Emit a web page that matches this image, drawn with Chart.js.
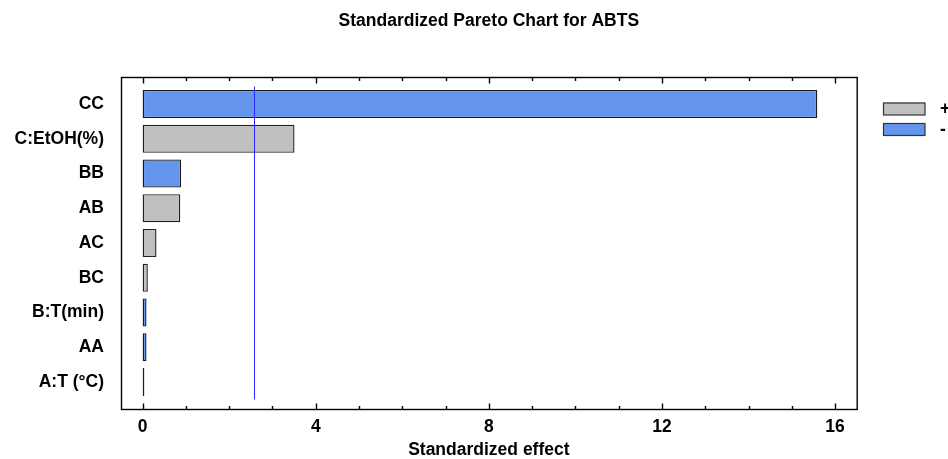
<!DOCTYPE html>
<html>
<head>
<meta charset="utf-8">
<script src="https://cdn.jsdelivr.net/npm/chart.js@4"></script>
<style>
  html, body { margin: 0; padding: 0; background: #fff; }
  #wrap { width: 948px; height: 459px; position: relative; }
</style>
</head>
<body>
<div id="wrap"><canvas id="c" width="948" height="459"></canvas></div>
<script>
// ---- Data ----
const chartTitle = "Standardized Pareto Chart for ABTS";
const axisTitle = "Standardized effect";
const categories = ["CC", "C:EtOH(%)", "BB", "AB", "AC", "BC", "B:T(min)", "AA", "A:T (°C)"];
const effects    = [15.59, 3.51, 0.89, 0.87, 0.32, 0.12, 0.09, 0.09, 0.04];
const signs      = ["-", "+", "-", "+", "+", "+", "-", "-", "+"];
const legendLabels = ["+", "-"];
const xTickLabels = [0, 4, 8, 12, 16];
const criticalValue = 2.5706;

const FONT = "'Liberation Sans', Arial, sans-serif";
const FS = 17.5;

const plusData  = effects.map((v, i) => signs[i] === "+" ? v : null);
const minusData = effects.map((v, i) => signs[i] === "-" ? v : null);

const framePlugin = {
  id: 'framePlugin',
  afterDraw(chart) {
    const ctx = chart.ctx;
    const xs = chart.scales.x;
    const ca = chart.chartArea;
    const L = ca.left, R = ca.right;
    const T = ca.top - 9.6, B = ca.bottom + 9.6;
    ctx.save();
    // critical value line
    const cx = Math.round(xs.getPixelForValue(criticalValue)) + 0.5;
    ctx.strokeStyle = 'rgb(40,40,255)';
    ctx.lineWidth = 1;
    ctx.beginPath();
    ctx.moveTo(cx, ca.top);
    ctx.lineTo(cx, ca.bottom);
    ctx.stroke();
    // frame
    ctx.strokeStyle = '#000';
    ctx.lineWidth = 1.4;
    ctx.strokeRect(L + 0.5, T + 0.5, R - L, B - T);
    // tick marks top & bottom
    for (let v = 0; v <= 16; v++) {
      const px = Math.round(xs.getPixelForValue(v)) + 0.5;
      const len = xTickLabels.includes(v) ? 6 : 3.5;
      ctx.beginPath();
      ctx.moveTo(px, B + 0.5);
      ctx.lineTo(px, B + 0.5 - len);
      ctx.moveTo(px, T + 0.5);
      ctx.lineTo(px, T + 0.5 + len);
      ctx.stroke();
    }
    // title
    ctx.fillStyle = '#000';
    ctx.font = 'bold ' + FS + 'px ' + FONT;
    ctx.textAlign = 'center';
    ctx.textBaseline = 'middle';
    ctx.fillText(chartTitle, (L + R) / 2, 21);
    // legend
    const ds = chart.data.datasets;
    ctx.textAlign = 'left';
    const boxY = [102.5, 123];
    ds.forEach((d, i) => {
      ctx.fillStyle = d.backgroundColor;
      ctx.fillRect(883, boxY[i], 42, 12.5);
      ctx.strokeStyle = '#333';
      ctx.lineWidth = 1.2;
      ctx.strokeRect(883.5, boxY[i] + 0.5, 41.5, 12);
      ctx.fillStyle = '#000';
      ctx.fillText(d.label, 940, boxY[i] + 7);
    });
    ctx.restore();
  }
};

new Chart(document.getElementById('c'), {
  type: 'bar',
  data: {
    labels: categories,
    datasets: [
      { label: legendLabels[0], data: plusData, backgroundColor: '#C0C0C0', borderColor: '#222222',
        borderWidth: 1.4, borderSkipped: false, grouped: false, barPercentage: 0.81, categoryPercentage: 1.0 },
      { label: legendLabels[1], data: minusData, backgroundColor: '#6495ED', borderColor: '#1a1a1a',
        borderWidth: 1.4, borderSkipped: false, grouped: false, barPercentage: 0.81, categoryPercentage: 1.0 }
    ]
  },
  options: {
    indexAxis: 'y',
    responsive: false,
    animation: false,
    devicePixelRatio: 1,
    layout: { padding: { top: 86.6, right: 91.3, left: 0, bottom: 0 } },
    plugins: { legend: { display: false }, title: { display: false }, tooltip: { enabled: false } },
    scales: {
      x: {
        type: 'linear',
        min: -0.5, max: 16.5,
        afterFit(s) { s.height = 59.6; },
        afterBuildTicks(s) { s.ticks = xTickLabels.map(v => ({ value: v })); },
        grid: { display: false, drawTicks: false },
        border: { display: false },
        ticks: { padding: 16.8, color: '#000', font: { family: FONT, size: FS, weight: 'bold' }, maxRotation: 0, autoSkip: false },
        title: { display: true, text: axisTitle, color: '#000', padding: { top: 0, bottom: 0 },
                 font: { family: FONT, size: FS, weight: 'bold', lineHeight: 1.0 } }
      },
      y: {
        type: 'category',
        offset: true,
        afterFit(s) { s.width = 121; },
        grid: { display: false, drawTicks: false },
        border: { display: false },
        ticks: { padding: 17, color: '#000', font: { family: FONT, size: FS, weight: 'bold' }, autoSkip: false }
      }
    }
  },
  plugins: [framePlugin]
});
</script>
</body>
</html>
